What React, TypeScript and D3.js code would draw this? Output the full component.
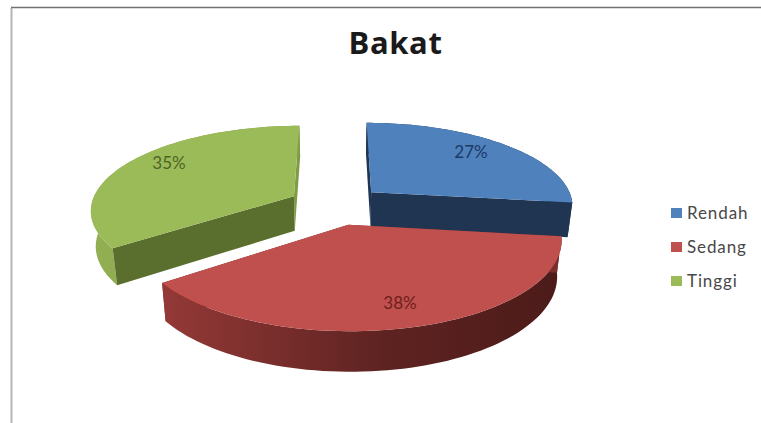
import React from "react";
import * as d3 from "d3";

const categories = ["Rendah", "Sedang", "Tinggi"];
const percentages = [27, 38, 35];
const chartTitle = "Bakat";

const topColors = ["#4f81bd", "#c0504d", "#9bbb59"];
const startWallColors = ["#1f3552", "#7a2f2d", "#5a6f2e"];
const endWallColors = ["#1f3552", "#7a2f2d", "#7f9c45"];
const outerWallStops = [
  ["#1f3552", "#1f3552"],
  ["#943937", "#4c1b19"],
  ["#93b153", "#7f9c45"],
];
const labelColors = ["#1b3a66", "#6e1f1d", "#4e6325"];
const labelAnchors: [number, number][] = [[471, 152], [400, 303], [169, 163]];

// Painter's order: the front slice goes last.
const paintOrder = [2, 0, 1];

const WIDTH = 761;
const HEIGHT = 423;
const CX = 336;
const CY = 205;
const RADIUS = 203;
const EXPLODE = 48;
const TILT = 0.4115;
const PERSPECTIVE = 0.152;
const DEPTH = 35;
const BASE_SCALE = 0.98;

type Pt = [number, number];

// Projects a point of the pie's plane onto the screen; level 0 is the top face, 1 the base.
function project(px: number, py: number, level: number): Pt {
  const w = 1 / (1 - (PERSPECTIVE * py) / RADIUS);
  const s = level ? BASE_SCALE : 1;
  return [CX + px * w * s, CY + TILT * py * w * s + (level ? DEPTH * w : 0)];
}

export default function App() {
  const arcs = d3
    .pie<number>()
    .sort(null)
    .value((d) => d)(percentages);

  const line = d3.line<Pt>();

  const slices = arcs.map((a, i) => {
    const mid = (a.startAngle + a.endAngle) / 2;
    const ox = EXPLODE * Math.sin(mid);
    const oy = -EXPLODE * Math.cos(mid);
    const rim = (t: number): Pt => [
      ox + RADIUS * Math.sin(t),
      oy - RADIUS * Math.cos(t),
    ];
    const angles = d3
      .range(0, 73)
      .map((k) => a.startAngle + ((a.endAngle - a.startAngle) * k) / 72);
    const wall = (p: Pt) =>
      line([
        project(ox, oy, 0),
        project(p[0], p[1], 0),
        project(p[0], p[1], 1),
        project(ox, oy, 1),
      ])! + "Z";
    const rimTop = angles.map((t) => project(...rim(t), 0));
    const rimBase = angles.map((t) => project(...rim(t), 1));
    return {
      i,
      top: line([project(ox, oy, 0), ...rimTop])! + "Z",
      startWall: wall(rim(a.startAngle)),
      endWall: wall(rim(a.endAngle)),
      outer: line([...rimTop, ...rimBase.slice().reverse()])! + "Z",
    };
  });

  return (
    <svg
      width={WIDTH}
      height={HEIGHT}
      viewBox={`0 0 ${WIDTH} ${HEIGHT}`}
      style={{ position: "absolute", left: 0, top: 0, background: "#fff" }}
    >
      <defs>
        {outerWallStops.map((stops, i) => (
          <linearGradient key={i} id={`outer-${i}`} x1="0" x2="1" y1="0" y2="0">
            <stop offset="0" stopColor={stops[0]} />
            <stop offset="0.55" stopColor={d3.interpolateRgb(stops[0], stops[1])(0.75)} />
            <stop offset="1" stopColor={stops[1]} />
          </linearGradient>
        ))}
      </defs>

      <line x1={11.5} x2={11.5} y1={8} y2={HEIGHT} stroke="#b5b5b5" strokeWidth={2} />
      <line x1={11} x2={WIDTH} y1={7.5} y2={7.5} stroke="#707070" strokeWidth={1.5} />

      <text
        x={395.5}
        y={54}
        textAnchor="middle"
        fontFamily="'Open Sans', sans-serif"
        fontWeight={700}
        fontSize={31}
        letterSpacing={0.6}
        fill="#1a1a1a"
      >
        {chartTitle}
      </text>

      {paintOrder.map((idx) => {
        const s = slices[idx];
        return (
          <g key={idx}>
            <path d={s.endWall} fill={endWallColors[idx]} />
            <path d={s.outer} fill={`url(#outer-${idx})`} />
            <path d={s.startWall} fill={startWallColors[idx]} />
            <path d={s.top} fill={topColors[idx]} />
          </g>
        );
      })}

      {percentages.map((v, i) => (
        <text
          key={i}
          x={labelAnchors[i][0]}
          y={labelAnchors[i][1]}
          dy="0.35em"
          textAnchor="middle"
          fontFamily="Lato, sans-serif"
          fontSize={17}
          fill={labelColors[i]}
        >
          {v}%
        </text>
      ))}

      {categories.map((c, i) => {
        const y = 213 + i * 34;
        return (
          <g key={c}>
            <rect x={671} y={y - 5} width={11} height={10} fill={topColors[i]} />
            <text
              x={687}
              y={y}
              dy="0.35em"
              fontFamily="Lato, sans-serif"
              fontSize={17}
              letterSpacing={0.9}
              fill="#484848"
            >
              {c}
            </text>
          </g>
        );
      })}
    </svg>
  );
}
